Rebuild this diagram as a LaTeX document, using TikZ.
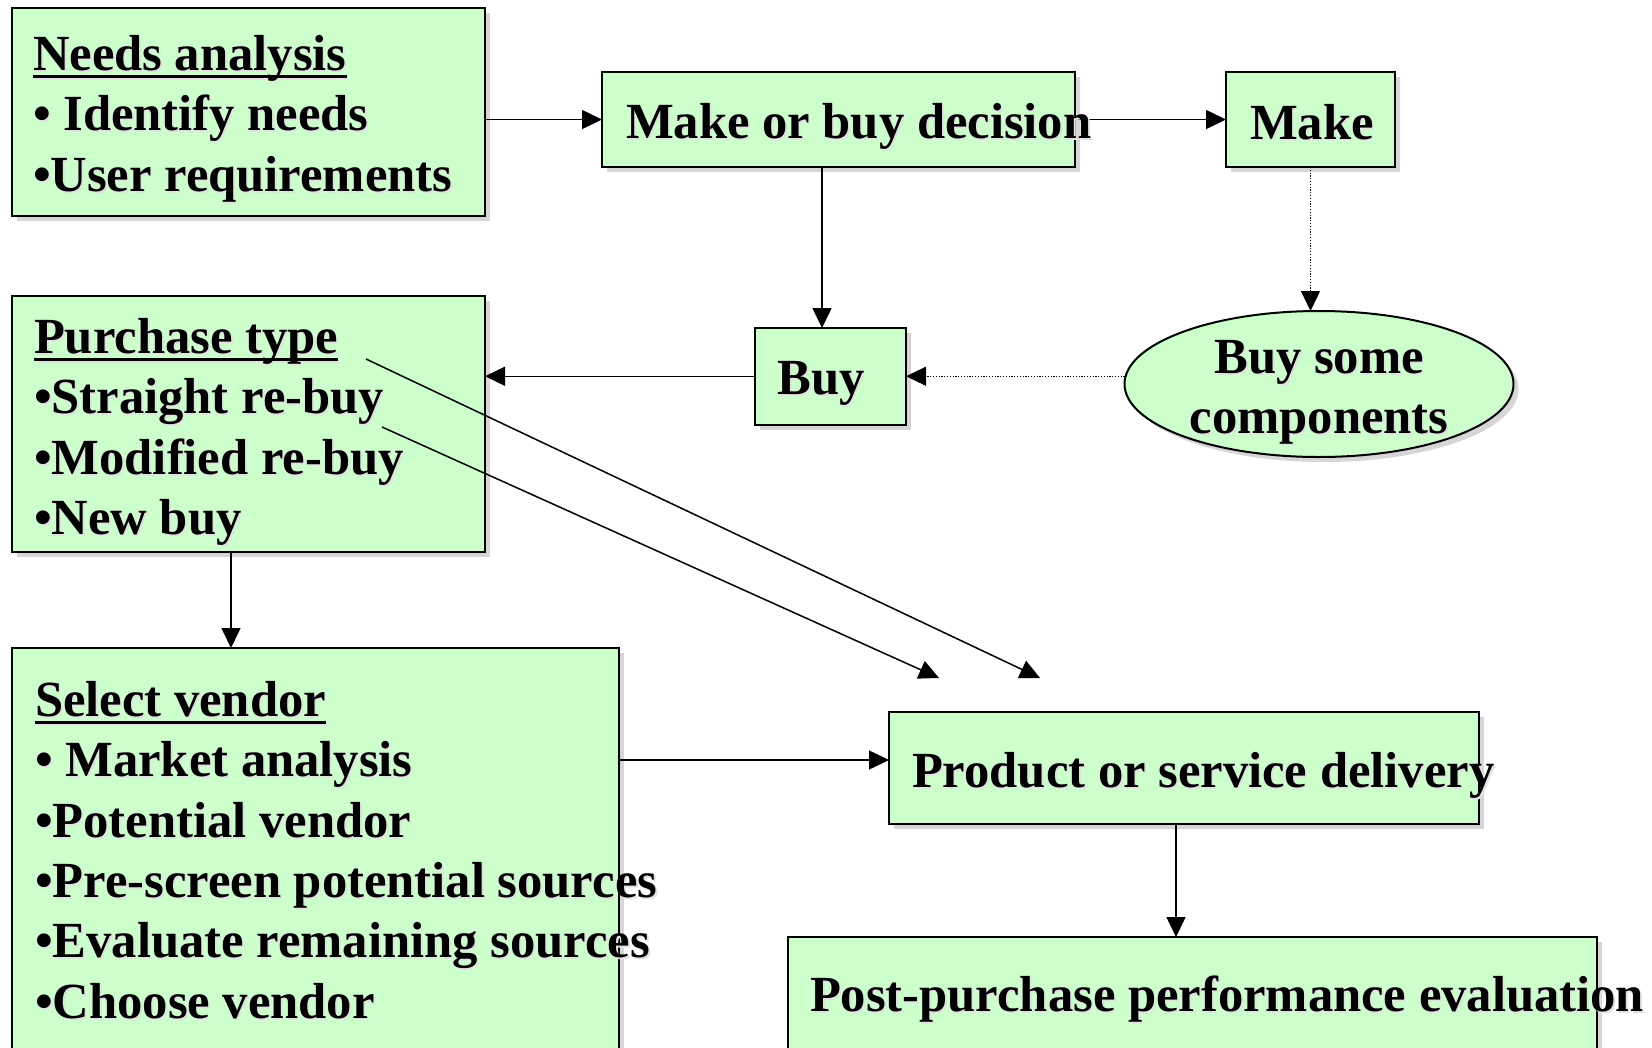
\documentclass[tikz,border=0pt]{standalone}
\usepackage{fontspec}
\setmainfont{Liberation Serif}[Ligatures=NoCommon]
\usetikzlibrary{arrows.meta,shadows,shapes.geometric}

\definecolor{boxgreen}{HTML}{CCFFCC}
\definecolor{shadowgray}{HTML}{D6D6D6}
\definecolor{textshade}{HTML}{E2E2E2}

% text with a soft offset shadow
\newcommand\txshade[1]{\leavevmode\rlap{\hspace{2bp}\raisebox{-2bp}{\color{textshade}#1}}#1}
% heading underline placed just under the baseline
\newcommand\hdul[1]{\setbox0\hbox{#1}\rlap{\rule[-7.3bp]{\wd0}{2.6bp}}\box0}
% one line of box text
\newcommand\txtline[1]{\strut\txshade{#1}}

\begin{document}
\begin{tikzpicture}[x=1bp,y=-1bp,
  box/.style={draw=black, line width=2bp, fill=boxgreen, rectangle,
    inner sep=0pt, outer sep=0pt,
    drop shadow={shadow xshift=5bp, shadow yshift=-5bp, fill=shadowgray, opacity=1}},
  oval/.style={box, ellipse},
  label/.style={inner sep=0pt, outer sep=0pt, anchor=north west, align=left,
    font=\fontsize{50.8}{60.6}\selectfont\bfseries},
  arr/.style={line width=1.5bp, -{Triangle[length=20bp,width=19bp]}},
  darr/.style={line width=1.2bp, dash pattern=on 1.2bp off 1.6bp,
    -{Triangle[length=20bp,width=19bp]}}
]
\useasboundingbox (0,0) rectangle (1652,1047);
\fill[white] (0,0) rectangle (1652,1047);
\clip (0,0) rectangle (1652,1047);

% boxes
\node[box, minimum width=473bp, minimum height=208bp] (needs) at (248.5,112) {};
\node[box, minimum width=473bp, minimum height=95bp]  (mob)   at (838.5,119.5) {};
\node[box, minimum width=169bp, minimum height=95bp]  (make)  at (1310.5,119.5) {};
\node[box, minimum width=151.5bp, minimum height=96.5bp] (buy) at (830.25,376.25) {};
\node[oval, minimum width=389bp, minimum height=146bp] (comp) at (1319,384) {};
\node[box, minimum width=473bp, minimum height=256bp] (ptype) at (248.5,424) {};
\node[box, minimum width=607bp, minimum height=422bp] (vendor) at (315.5,859) {};
\node[box, minimum width=590bp, minimum height=112bp] (deliv) at (1184,768) {};
\node[box, minimum width=809bp, minimum height=143bp] (post) at (1192.5,1008.5) {};

% helper positions for off-centre connectors
\coordinate (xbuy) at (822,0);
\coordinate (xtype) at (231,0);
\coordinate (xdeliv) at (1176,0);
\coordinate (yvendor) at (0,760);
\coordinate (d1s) at (366,359);
\coordinate (d1e) at (1040,678);
\coordinate (d2s) at (382,427);
\coordinate (d2e) at (939,678);

% connectors
\draw[arr] (needs.east |- mob.west) -- (mob.west);
\draw[arr] (mob.east) -- (make.west);
\draw[arr] (mob.south -| xbuy) -- (buy.north -| xbuy);
\draw[darr] (make.south) -- (make.south |- comp.north);
\draw[darr] (comp.west |- buy.east) -- (buy.east);
\draw[arr] (buy.west) -- (ptype.east |- buy.west);
\draw[arr] (ptype.south -| xtype) -- (vendor.north -| xtype);
\draw[arr] (vendor.east |- yvendor) -- (deliv.west |- yvendor);
\draw[arr] (deliv.south -| xdeliv) -- (post.north -| xdeliv);
\draw[arr] (d1s) -- (d1e);
\draw[arr] (d2s) -- (d2e);

% texts
\node[label] (tneeds) at (33,28) {%
  \txtline{\hdul{Needs analysis}}\\
  \txtline{• Identify needs}\\
  \txtline{•User requirements}};
\node[label] (tmob) at (626,96.5) {\txtline{Make or buy decision}};
\node[label] (tmake) at (1250,97) {\txtline{Make}};
\node[label] (tbuy) at (777.5,352) {\txtline{Buy}};
\node[label, anchor=north, align=center] (tcomp) at (1319,331) {%
  \txtline{Buy some}\\
  \txtline{components}};
\node[label] (tptype) at (34,311) {%
  \txtline{\hdul{Purchase type}}\\
  \txtline{•Straight re-buy}\\
  \txtline{•Modified re-buy}\\
  \txtline{•New buy}};
\node[label] (tvendor) at (35,674) {%
  \txtline{\hdul{Select vendor}}\\
  \txtline{• Market analysis}\\
  \txtline{•Potential vendor}\\
  \txtline{•Pre-screen potential sources}\\
  \txtline{•Evaluate remaining sources}\\
  \txtline{•Choose vendor}};
\node[label] (tdeliv) at (912,745) {\txtline{Product or service delivery}};
\node[label] (tpost) at (810,969.5) {\txtline{Post-purchase performance evaluation}};
\end{tikzpicture}
\end{document}
